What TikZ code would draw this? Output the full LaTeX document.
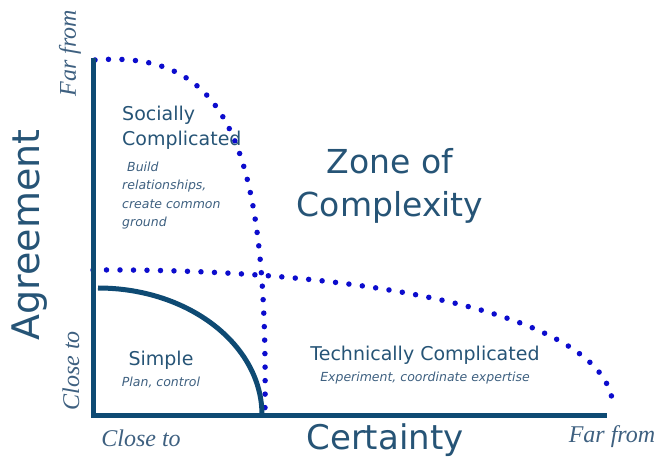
\documentclass[tikz,border=0pt]{standalone}
\usepackage{fontspec}
\setmainfont{DejaVu Sans}
\newfontfamily\scalefont{Liberation Serif}
\usepackage{tikz}
\usetikzlibrary{positioning}
\usepackage{xcolor}
\definecolor{axisblue}{RGB}{14,74,115}
\definecolor{dotblue}{RGB}{12,12,205}
\definecolor{textblue}{RGB}{38,84,118}
\definecolor{noteblue}{RGB}{62,96,128}

\tikzset{
  axisline/.style={line width=5pt, axisblue},
  zoneline/.style={line width=5.5pt, dotblue, line cap=round, dash pattern=on 0pt off 13.5pt},
  bigtext/.style={textblue, font=\fontsize{34}{43}\selectfont},
  zonetext/.style={textblue, font=\fontsize{19}{25}\selectfont},
  notetext/.style={noteblue, font=\itshape\fontsize{12.5}{18.5}\selectfont},
  scaletext/.style={noteblue, font=\scalefont\itshape\fontsize{24}{26}\selectfont}
}

\begin{document}
\begin{tikzpicture}[x=1pt, y=-1pt]
    \useasboundingbox (0,0) rectangle (657,468);

    \coordinate (top) at (93,58);
    \coordinate (origin) at (93,415);
    \coordinate (right) at (607,415);

    \draw [zoneline] (95,60) .. controls (225,50) and (268,140) .. (265,408);
    \draw [zoneline] (93,270) .. controls (380,268) and (612,318) .. (613,408);

    \draw [axisline] (98,288) arc (-90:0:164 and 127);
    \draw [axisline, line cap=butt] (top) -- (origin) -- (right);

    \node (agreement) [bigtext, font=\fontsize{38}{43}\selectfont, rotate=90] at (30,235) {Agreement};
    \node (certainty) [bigtext] at (385,440) {Certainty};
    \node (farY) [scaletext, rotate=90] at (70,53) {Far from};
    \node (closeY) [scaletext, rotate=90] at (71,371) {Close to};
    \node (closeX) [scaletext] at (141,438) {Close to};
    \node (farX) [scaletext] at (612,437) {Far from};

    \node (zone) [bigtext, font=\fontsize{33}{43}\selectfont, align=center] at (390,186) {Zone of\\Complexity};

    \node (social) [zonetext, align=left, anchor=north west, inner sep=0pt] at (122,106) {Socially\\Complicated};
    \node (socialnote) [notetext, align=left, anchor=north west, inner sep=0pt] at ([yshift=-12pt]social.south west) {\hspace{5pt}Build\\relationships,\\create common\\ground};

    \node (simple) [zonetext] at (161,360) {Simple};
    \node (simplenote) [notetext, below=1pt of simple] {Plan, control};

    \node (technical) [zonetext] at (425,355) {Technically Complicated};
    \node (technote) [notetext, below=1pt of technical] {Experiment, coordinate expertise};
\end{tikzpicture}
\end{document}
